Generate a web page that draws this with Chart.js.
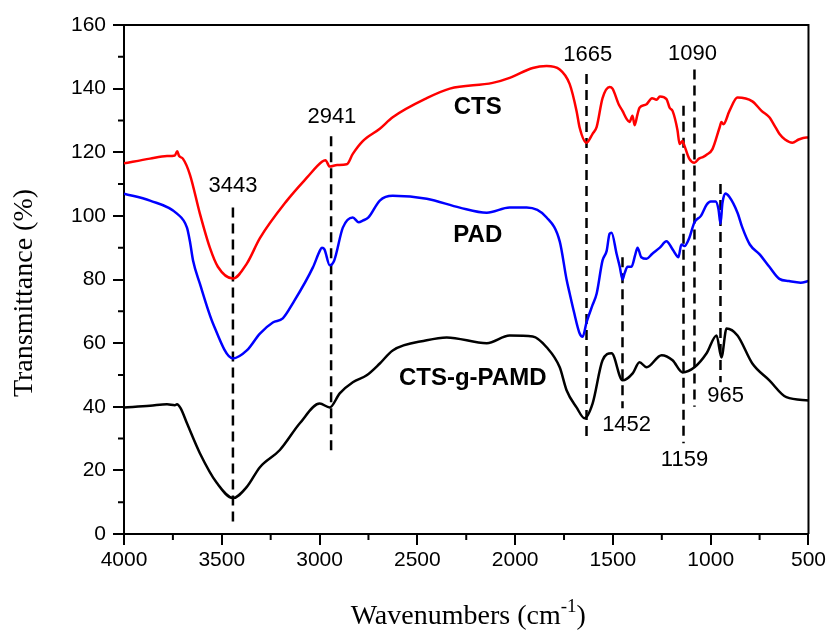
<!DOCTYPE html>
<html>
<head>
<meta charset="utf-8">
<script src="https://cdn.jsdelivr.net/npm/chart.js@4.4.1/dist/chart.umd.min.js"></script>
<style>
html,body{margin:0;padding:0;background:#fff;}
#wrap{width:829px;height:630px;position:relative;}
</style>
</head>
<body>
<div id="wrap"><canvas id="c"></canvas></div>
<script>
// ---- data (wavenumber cm-1, transmittance %) ----
const ctsWn = [4000,3867,3780,3740,3728,3718,3699,3663,3612,3561,3520,3443,3372,3305,3167,3065,2988,2970,2948,2910,2861,2830,2779,2692,2626,2452,2334,2115,2028,1910,1839,1772,1721,1686,1670,1635,1604,1583,1553,1517,1502,1470,1451,1430,1415,1400,1389,1374,1364,1330,1300,1277,1260,1226,1210,1195,1170,1159,1144,1134,1110,1083,1060,1040,1021,991,955,945,935,904,863,787,740,700,670,649,620,582,550,511,500];
const ctsT  = [116.5,118,118.8,119,120.3,118.8,118,113,100.7,90,84,80.3,85,93,104.8,112,117,117.5,115.5,116,116.2,119.5,123.5,127.4,131,137,140,141.8,143.4,146.5,147.1,146,141.4,133,127.7,123,125.8,128,137,140.5,140,135,133,130.5,129.5,131.5,128.5,132,134,135,137,136.5,137.5,136.7,134,133,127,122.6,123.5,122,118,116.7,118,118.5,119.2,121,127.7,129.5,128.8,133,137.2,136,133,131,128,125.8,124,123,124,124.6,124.6];

const padWn = [4000,3867,3729,3678,3663,3647,3612,3545,3443,3372,3305,3239,3188,3137,3034,2999,2988,2975,2948,2925,2881,2830,2800,2779,2750,2692,2626,2452,2283,2145,2028,1941,1839,1772,1737,1721,1700,1670,1655,1635,1604,1583,1553,1532,1517,1507,1481,1465,1451,1440,1425,1405,1385,1374,1355,1328,1300,1260,1226,1200,1180,1165,1150,1134,1110,1083,1050,1021,1000,975,960,950,940,925,905,863,838,800,751,700,649,600,540,500];
const padT  = [107,104.8,100.7,96.3,92,86,78.7,66.2,55.2,57.7,63,66.5,67.8,72.5,83.8,89,90,89.5,84.5,86,96.3,99.5,98,98.5,99.5,104.8,106.3,105.4,102.6,101,102.6,102.6,99.5,92,80,75.6,70,63,62,66.5,72,75.6,86,89,94.4,94.7,88,84,80,82,84,84,88,90,87,86.5,88,90,92,90,88,87,91,90.5,93,98,100,103.5,104.5,104.5,102,97.5,104,107,106,101,96.3,91,88,84,80.2,79.5,79,79.5];

const gpWn = [4000,3867,3780,3740,3729,3710,3678,3612,3525,3443,3372,3305,3203,3101,2999,2948,2897,2830,2759,2692,2626,2452,2350,2145,2028,1910,1839,1772,1737,1686,1645,1604,1553,1507,1451,1399,1364,1328,1251,1195,1144,1083,1021,970,945,919,863,787,700,613,500];
const gpT  = [39.8,40.3,40.8,40.5,40.8,39.5,34.8,25.4,16,11.3,14.8,21,26.4,34.8,41,39.8,44.2,47.7,49.9,53.6,57.7,60.9,61.8,60,62.4,62.1,58.7,52.4,45.2,39.8,36.4,41,54.6,56.8,48.3,50.5,54,52.4,56.2,54.6,50.8,52.4,56.8,62.4,55.5,64.6,62.4,53.6,48.3,43,42];

// dashed marker lines
const peakPos    = [3443, 2941, 1635, 1451, 1139, 1083, 950];
const peakTop    = [102.6, 125, 144.6, 87, 134.6, 146, 110];
const peakBottom = [3.5, 25.7, 30.4, 39.5, 28.5, 40, 47.7];

// peak number labels
const peakLabels = ['3443','2941','1665','1090','1452','1159','965'];
const peakLabelX = [3443, 2937, 1629, 1093, 1430, 1134, 924];
const peakLabelY = [109.5, 131, 150.5, 151, 34.2, 23.2, 43.3];

// series labels
const seriesNames  = ['CTS','PAD','CTS-g-PAMD'];
const seriesColors = ['#ff0000','#0000ff','#000000'];
const seriesLabelX = [2191, 2191, 2217];
const seriesLabelY = [134, 93.8, 49];

// axis ticks
const xMin = 500, xMax = 4000, xStep = 500;
const yMin = 0, yMax = 160, yStep = 20;

const toPts = (w, t) => w.map((v, i) => ({x: v, y: t[i]}));

const datasets = [
  {label: seriesNames[0], data: toPts(ctsWn, ctsT), borderColor: seriesColors[0]},
  {label: seriesNames[1], data: toPts(padWn, padT), borderColor: seriesColors[1]},
  {label: seriesNames[2], data: toPts(gpWn, gpT), borderColor: seriesColors[2]}
].map(d => Object.assign(d, {borderWidth: 2.5, pointRadius: 0, cubicInterpolationMode: 'monotone', fill: false}));

peakPos.forEach((p, i) => {
  datasets.push({
    label: 'peak' + i,
    data: [{x: p, y: peakTop[i]}, {x: p, y: peakBottom[i]}],
    borderColor: '#000', borderWidth: 2.5, borderDash: [10, 6],
    pointRadius: 0, fill: false
  });
});

const deco = {
  id: 'deco',
  afterDraw(chart) {
    const ctx = chart.ctx, a = chart.chartArea;
    const xs = chart.scales.x, ys = chart.scales.y;
    ctx.save();
    // frame top & right
    ctx.strokeStyle = '#000'; ctx.lineWidth = 2;
    ctx.beginPath();
    ctx.moveTo(a.left, a.top); ctx.lineTo(a.right, a.top); ctx.lineTo(a.right, a.bottom);
    ctx.stroke();
    // minor ticks
    ctx.beginPath();
    for (let v = xMin + xStep / 2; v < xMax; v += xStep) {
      const px = xs.getPixelForValue(v);
      ctx.moveTo(px, a.bottom); ctx.lineTo(px, a.bottom + 6);
    }
    for (let v = yMin + yStep / 2; v < yMax; v += yStep) {
      const py = ys.getPixelForValue(v);
      ctx.moveTo(a.left, py); ctx.lineTo(a.left - 6, py);
    }
    ctx.stroke();
    // peak labels
    ctx.fillStyle = '#000';
    ctx.textAlign = 'center'; ctx.textBaseline = 'middle';
    ctx.font = '22px "Liberation Sans", Arial, sans-serif';
    peakLabels.forEach((t, i) => {
      ctx.fillText(t, xs.getPixelForValue(peakLabelX[i]), ys.getPixelForValue(peakLabelY[i]));
    });
    // series labels
    ctx.font = 'bold 24px "Liberation Sans", Arial, sans-serif';
    seriesNames.forEach((t, i) => {
      ctx.fillText(t, xs.getPixelForValue(seriesLabelX[i]), ys.getPixelForValue(seriesLabelY[i]));
    });
    // x title with superscript
    const main = '28px "Liberation Serif", "Times New Roman", serif';
    const sup = '19px "Liberation Serif", "Times New Roman", serif';
    const p1 = 'Wavenumbers (cm', p2 = '-1', p3 = ')';
    ctx.textAlign = 'left'; ctx.textBaseline = 'alphabetic';
    ctx.font = main; const w1 = ctx.measureText(p1).width, w3 = ctx.measureText(p3).width;
    ctx.font = sup; const w2 = ctx.measureText(p2).width;
    let x0 = (a.left + a.right) / 2 - (w1 + w2 + w3) / 2 + 2;
    const base = 624;
    ctx.font = main; ctx.fillText(p1, x0, base);
    ctx.font = sup; ctx.fillText(p2, x0 + w1, base - 12);
    ctx.font = main; ctx.fillText(p3, x0 + w1 + w2, base);
    // y title
    ctx.translate(25, 293);
    ctx.rotate(-Math.PI / 2);
    ctx.textAlign = 'center'; ctx.textBaseline = 'middle';
    ctx.font = main;
    ctx.fillText('Transmittance (%)', 0, 0);
    ctx.restore();
  }
};

const tickFont = {family: '"Liberation Sans", Arial, sans-serif', size: 21};

new Chart(document.getElementById('c'), {
  type: 'line',
  data: {datasets},
  options: {
    responsive: true, maintainAspectRatio: false, animation: false,
    layout: {padding: {left: 0, top: 25, right: 20, bottom: 0}},
    plugins: {legend: {display: false}, tooltip: {enabled: false}},
    scales: {
      x: {
        type: 'linear', min: xMin, max: xMax, reverse: true,
        ticks: {stepSize: xStep, color: '#000', font: tickFont, padding: 3, maxRotation: 0,
                callback: v => String(v)},
        grid: {drawOnChartArea: false, drawTicks: true, tickLength: 11, tickWidth: 2, tickColor: '#000', lineWidth: 2, color: '#000'},
        border: {display: true, color: '#000', width: 2},
        afterFit: s => { s.height = 96; }
      },
      y: {
        type: 'linear', min: yMin, max: yMax,
        ticks: {stepSize: yStep, color: '#000', font: tickFont, padding: 7,
                callback: v => String(v)},
        grid: {drawOnChartArea: false, drawTicks: true, tickLength: 11, tickWidth: 2, tickColor: '#000', lineWidth: 2, color: '#000'},
        border: {display: true, color: '#000', width: 2},
        afterFit: s => { s.width = 124; }
      }
    }
  },
  plugins: [deco]
});
</script>
</body>
</html>
